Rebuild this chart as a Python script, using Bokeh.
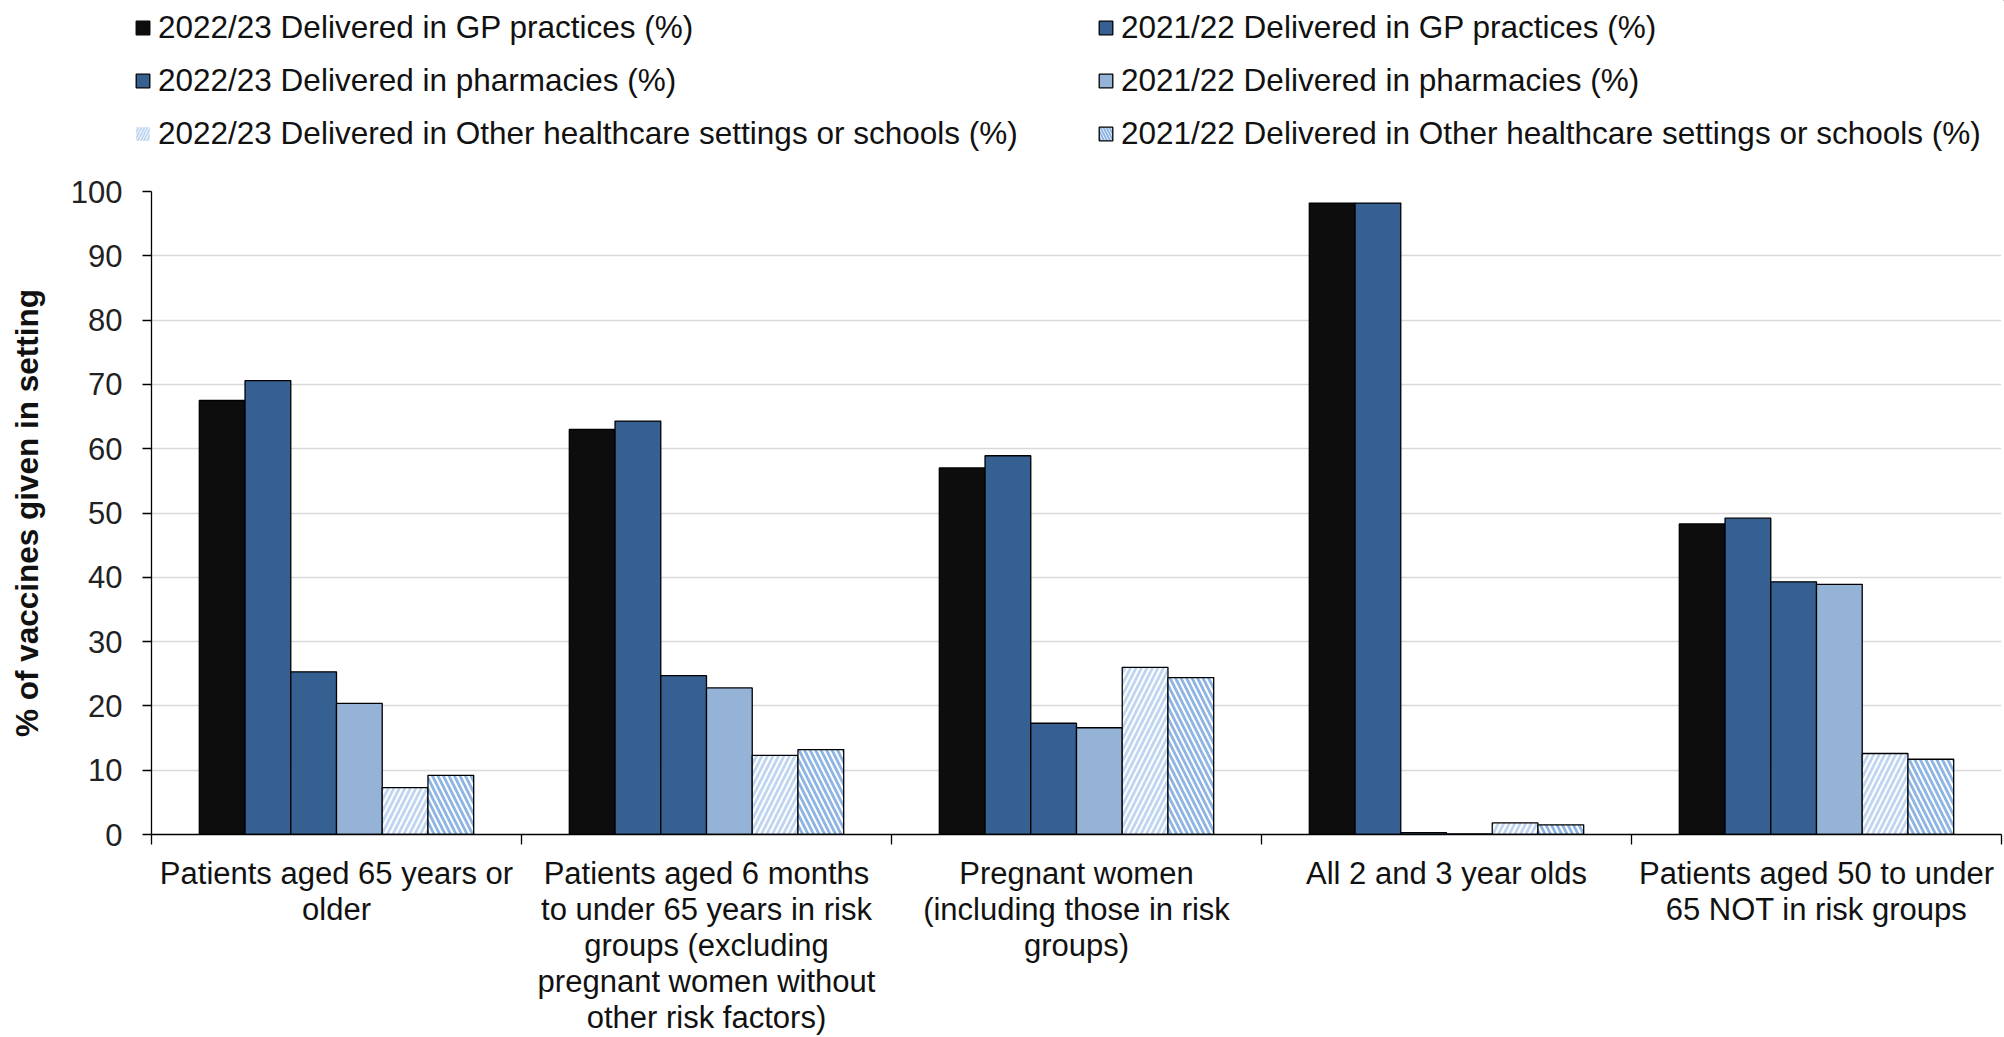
from bokeh.plotting import figure
from bokeh.layouts import column
from bokeh.models import FixedTicker, Legend, LegendItem, Range1d
from bokeh.embed import file_html
from bokeh.resources import INLINE

categories = [
    "Patients aged 65 years or\nolder",
    "Patients aged 6 months\nto under 65 years in risk\ngroups (excluding\npregnant women without\nother risk factors)",
    "Pregnant women\n(including those in risk\ngroups)",
    "All 2 and 3 year olds",
    "Patients aged 50 to under\n65 NOT in risk groups",
]

gp_2223 = [67.5, 63.0, 57.0, 98.2, 48.3]
gp_2122 = [70.6, 64.3, 58.9, 98.2, 49.2]
pharm_2223 = [25.3, 24.7, 17.3, 0.3, 39.3]
pharm_2122 = [20.4, 22.8, 16.6, 0.1, 38.9]
other_2223 = [7.3, 12.3, 26.0, 1.8, 12.6]
other_2122 = [9.2, 13.2, 24.4, 1.5, 11.7]

series_names = [
    "2022/23 Delivered in GP practices (%)",
    "2021/22 Delivered in GP practices (%)",
    "2022/23 Delivered in pharmacies (%)",
    "2021/22 Delivered in pharmacies (%)",
    "2022/23 Delivered in Other healthcare settings or schools (%)",
    "2021/22 Delivered in Other healthcare settings or schools (%)",
]
series_values = [gp_2223, gp_2122, pharm_2223, pharm_2122, other_2223, other_2122]

FONT = "Liberation Sans"
styles = [
    dict(fill_color="#0d0d0d", line_color="black"),
    dict(fill_color="#376092", line_color="black"),
    dict(fill_color="#376092", line_color="black"),
    dict(fill_color="#95b3d7", line_color="black"),
    dict(fill_color="white", line_color="black", hatch_pattern="/", hatch_color="#c0d5ef",
         hatch_scale=11, hatch_weight=2.8),
    dict(fill_color="white", line_color="black", hatch_pattern="\\", hatch_color="#8db4e2",
         hatch_scale=11, hatch_weight=2.8),
]
legend_styles = [dict(s) for s in styles]
legend_styles[4].update(line_color=None, hatch_scale=6, hatch_weight=2)
legend_styles[5].update(hatch_scale=6, hatch_weight=2)

# ---------------- legend strip ----------------
LEG_H = 171
lf = figure(width=2004, height=LEG_H, x_range=Range1d(0, 1), y_range=Range1d(0, 1),
            output_backend="svg", toolbar_location=None, x_axis_type=None, y_axis_type=None,
            min_border_left=0, min_border_right=0, min_border_top=0, min_border_bottom=0)
lf.outline_line_color = None
lf.grid.visible = False
lf.frame_align = False

# legend-only swatches: one point placed entirely outside the visible ranges
swatch_x = [5]
swatch_top = [5]
swatch_bottom = [4]
leg_renderers = []
for st in legend_styles:
    r = lf.vbar(x=swatch_x, top=swatch_top, bottom=swatch_bottom, width=0.1, line_width=1.3, **st)
    leg_renderers.append(r)

def make_legend(idxs, x):
    items = [LegendItem(label=series_names[i], renderers=[leg_renderers[i]]) for i in idxs]
    return Legend(items=items, location=(x, 19), orientation="vertical",
                  glyph_width=17, glyph_height=17, label_standoff=7,
                  label_height=33, spacing=16, padding=0, margin=0,
                  border_line_color=None, background_fill_alpha=0,
                  label_text_font=FONT, label_text_font_size="31.5px",
                  label_text_color="#111111")

lf.add_layout(make_legend([0, 2, 4], 134))
lf.add_layout(make_legend([1, 3, 5], 1097))

# ---------------- main chart ----------------
p = figure(width=2004, height=1037 - LEG_H, x_range=Range1d(0, 5), y_range=Range1d(0, 100),
           output_backend="svg", toolbar_location=None,
           min_border_left=151, min_border_right=3, min_border_top=20, min_border_bottom=199)
p.outline_line_color = None
p.frame_align = False

bar_w = 0.1236
for k, (vals, st) in enumerate(zip(series_values, styles)):
    xs = [i + 0.5 + (k - 2.5) * bar_w for i in range(len(categories))]
    p.vbar(x=xs, top=vals, bottom=0, width=bar_w, line_width=1.3, **st)

p.xgrid.visible = False
p.ygrid.grid_line_color = "#d9d9d9"
p.ygrid.grid_line_width = 1.5
p.yaxis.ticker = FixedTicker(ticks=list(range(0, 101, 10)))
p.yaxis.axis_line_color = "black"
p.yaxis.axis_line_width = 1.3
p.yaxis.major_tick_line_color = "black"
p.yaxis.major_tick_line_width = 1.3
p.yaxis.major_tick_out = 9
p.yaxis.major_tick_in = 0
p.yaxis.minor_tick_line_color = None
p.yaxis.major_label_standoff = 20
p.yaxis.major_label_text_font = FONT
p.yaxis.major_label_text_font_size = "31px"
p.yaxis.major_label_text_color = "#222222"
p.yaxis.axis_label = "% of vaccines given in setting"
p.yaxis.axis_label_text_font = FONT
p.yaxis.axis_label_text_font_size = "31.5px"
p.yaxis.axis_label_text_font_style = "bold"
p.yaxis.axis_label_text_color = "#111111"
p.yaxis.axis_label_standoff = 23

p.xaxis.ticker = FixedTicker(ticks=[i + 0.5 for i in range(5)], minor_ticks=list(range(6)))
p.xaxis.major_label_overrides = {i + 0.5: c for i, c in enumerate(categories)}
p.xaxis.axis_line_color = "black"
p.xaxis.axis_line_width = 1.3
p.xaxis.major_tick_line_color = None
p.xaxis.major_tick_out = 0
p.xaxis.major_tick_in = 0
p.xaxis.minor_tick_line_color = "black"
p.xaxis.minor_tick_line_width = 1.3
p.xaxis.minor_tick_out = 10
p.xaxis.minor_tick_in = 0
p.xaxis.major_label_standoff = 11
p.xaxis.major_label_text_font = FONT
p.xaxis.major_label_text_font_size = "31px"
p.xaxis.major_label_text_color = "#111111"
p.xaxis.major_label_text_line_height = 1.03

layout = column(lf, p, spacing=0)
open("out.html", "w").write(file_html(layout, INLINE))
